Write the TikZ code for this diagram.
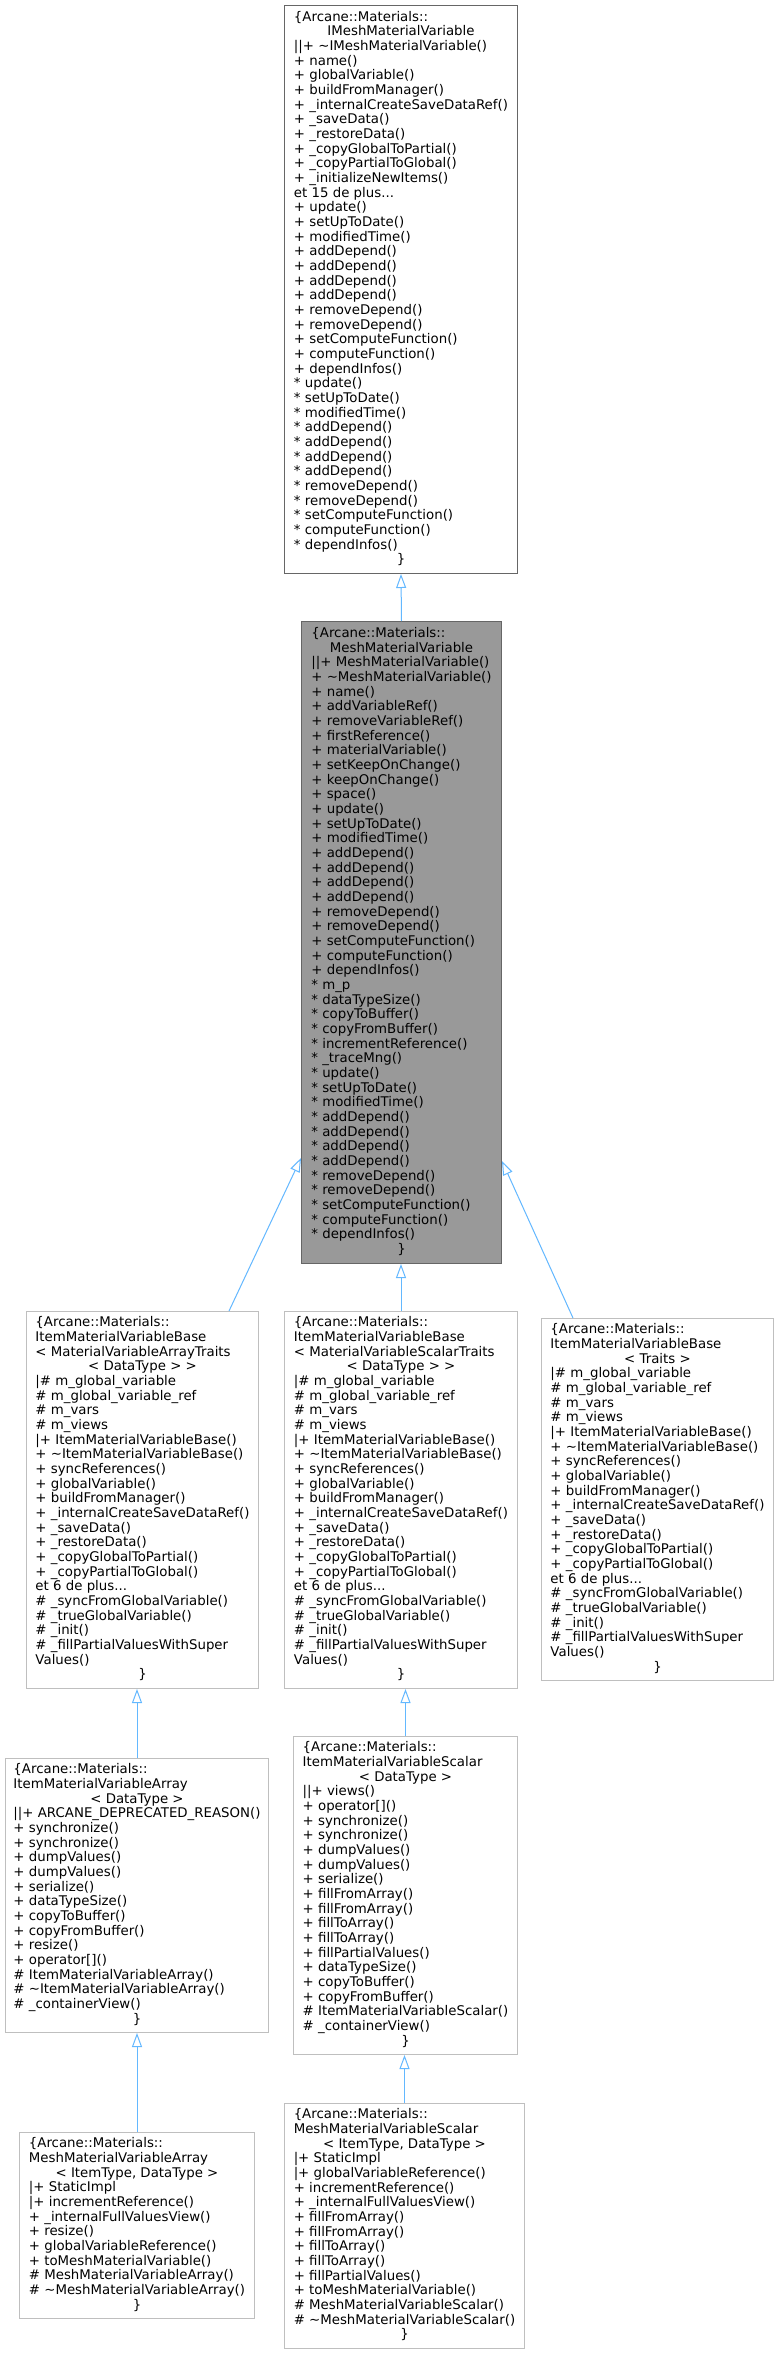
\documentclass[tikz,border=0pt]{standalone}
\usepackage{fontspec}
\setmainfont{DejaVu Sans}
\usepackage{tikz}
\usetikzlibrary{arrows.meta}
\definecolor{edgeblue}{HTML}{63B8FF}
\definecolor{darkframe}{HTML}{666666}
\definecolor{lightframe}{HTML}{BFBFBF}
\definecolor{focusfill}{HTML}{999999}
\newcommand{\centred}[1]{\multicolumn{1}{@{}c@{}}{#1}}

\begin{document}
\begin{tikzpicture}[x=1pt, y=-1pt,
    font=\fontsize{13.33pt}{14.67pt}\selectfont,
    cls/.style={draw=lightframe, line width=1pt, anchor=north west, inner sep=0pt, fill=white},
    inh/.style={draw=edgeblue, line width=1pt, -{Triangle[open, length=14pt, width=10pt]}}]
  \fill[white] (0,0) rectangle (778,2353);

  \node[cls, draw=darkframe, minimum width=233pt, minimum height=568pt] (b1) at (284,5) {\begin{tabular}{@{}l@{}}
    \{Arcane::Materials::\\
    \centred{IMeshMaterialVariable}\\
    ||+ \textasciitilde IMeshMaterialVariable()\\
    + name()\\
    + globalVariable()\\
    + buildFromManager()\\
    + \_internalCreateSaveDataRef()\\
    + \_saveData()\\
    + \_restoreData()\\
    + \_copyGlobalToPartial()\\
    + \_copyPartialToGlobal()\\
    + \_initializeNewItems()\\
    et 15 de plus...\\
    + update()\\
    + setUpToDate()\\
    + modifiedTime()\\
    + addDepend()\\
    + addDepend()\\
    + addDepend()\\
    + addDepend()\\
    + removeDepend()\\
    + removeDepend()\\
    + setComputeFunction()\\
    + computeFunction()\\
    + dependInfos()\\
    {*} update()\\
    {*} setUpToDate()\\
    {*} modifiedTime()\\
    {*} addDepend()\\
    {*} addDepend()\\
    {*} addDepend()\\
    {*} addDepend()\\
    {*} removeDepend()\\
    {*} removeDepend()\\
    {*} setComputeFunction()\\
    {*} computeFunction()\\
    {*} dependInfos()\\
    \centred{\}}
  \end{tabular}};

  \node[cls, draw=darkframe, fill=focusfill, minimum width=200pt, minimum height=642pt] (b2) at (301,621) {\begin{tabular}{@{}l@{}}
    \{Arcane::Materials::\\
    \centred{MeshMaterialVariable}\\
    ||+ MeshMaterialVariable()\\
    + \textasciitilde MeshMaterialVariable()\\
    + name()\\
    + addVariableRef()\\
    + removeVariableRef()\\
    + firstReference()\\
    + materialVariable()\\
    + setKeepOnChange()\\
    + keepOnChange()\\
    + space()\\
    + update()\\
    + setUpToDate()\\
    + modifiedTime()\\
    + addDepend()\\
    + addDepend()\\
    + addDepend()\\
    + addDepend()\\
    + removeDepend()\\
    + removeDepend()\\
    + setComputeFunction()\\
    + computeFunction()\\
    + dependInfos()\\
    {*} m\_p\\
    {*} dataTypeSize()\\
    {*} copyToBuffer()\\
    {*} copyFromBuffer()\\
    {*} incrementReference()\\
    {*} \_traceMng()\\
    {*} update()\\
    {*} setUpToDate()\\
    {*} modifiedTime()\\
    {*} addDepend()\\
    {*} addDepend()\\
    {*} addDepend()\\
    {*} addDepend()\\
    {*} removeDepend()\\
    {*} removeDepend()\\
    {*} setComputeFunction()\\
    {*} computeFunction()\\
    {*} dependInfos()\\
    \centred{\}}
  \end{tabular}};

  \node[cls, minimum width=232pt, minimum height=377pt] (b3) at (26,1311) {\begin{tabular}{@{}l@{}}
    \{Arcane::Materials::\\
    ItemMaterialVariableBase\\
    < MaterialVariableArrayTraits\\
    \centred{< DataType > >}\\
    |\# m\_global\_variable\\
    \# m\_global\_variable\_ref\\
    \# m\_vars\\
    \# m\_views\\
    |+ ItemMaterialVariableBase()\\
    + \textasciitilde ItemMaterialVariableBase()\\
    + syncReferences()\\
    + globalVariable()\\
    + buildFromManager()\\
    + \_internalCreateSaveDataRef()\\
    + \_saveData()\\
    + \_restoreData()\\
    + \_copyGlobalToPartial()\\
    + \_copyPartialToGlobal()\\
    et 6 de plus...\\
    \# \_syncFromGlobalVariable()\\
    \# \_trueGlobalVariable()\\
    \# \_init()\\
    \# \_fillPartialValuesWithSuper\\
    Values()\\
    \centred{\}}
  \end{tabular}};

  \node[cls, minimum width=233pt, minimum height=377pt] (b4) at (284,1311) {\begin{tabular}{@{}l@{}}
    \{Arcane::Materials::\\
    ItemMaterialVariableBase\\
    < MaterialVariableScalarTraits\\
    \centred{< DataType > >}\\
    |\# m\_global\_variable\\
    \# m\_global\_variable\_ref\\
    \# m\_vars\\
    \# m\_views\\
    |+ ItemMaterialVariableBase()\\
    + \textasciitilde ItemMaterialVariableBase()\\
    + syncReferences()\\
    + globalVariable()\\
    + buildFromManager()\\
    + \_internalCreateSaveDataRef()\\
    + \_saveData()\\
    + \_restoreData()\\
    + \_copyGlobalToPartial()\\
    + \_copyPartialToGlobal()\\
    et 6 de plus...\\
    \# \_syncFromGlobalVariable()\\
    \# \_trueGlobalVariable()\\
    \# \_init()\\
    \# \_fillPartialValuesWithSuper\\
    Values()\\
    \centred{\}}
  \end{tabular}};

  \node[cls, minimum width=232pt, minimum height=362pt] (b5) at (541,1318) {\begin{tabular}{@{}l@{}}
    \{Arcane::Materials::\\
    ItemMaterialVariableBase\\
    \centred{< Traits >}\\
    |\# m\_global\_variable\\
    \# m\_global\_variable\_ref\\
    \# m\_vars\\
    \# m\_views\\
    |+ ItemMaterialVariableBase()\\
    + \textasciitilde ItemMaterialVariableBase()\\
    + syncReferences()\\
    + globalVariable()\\
    + buildFromManager()\\
    + \_internalCreateSaveDataRef()\\
    + \_saveData()\\
    + \_restoreData()\\
    + \_copyGlobalToPartial()\\
    + \_copyPartialToGlobal()\\
    et 6 de plus...\\
    \# \_syncFromGlobalVariable()\\
    \# \_trueGlobalVariable()\\
    \# \_init()\\
    \# \_fillPartialValuesWithSuper\\
    Values()\\
    \centred{\}}
  \end{tabular}};

  \node[cls, minimum width=263pt, minimum height=274pt] (b6) at (5,1758) {\begin{tabular}{@{}l@{}}
    \{Arcane::Materials::\\
    ItemMaterialVariableArray\\
    \centred{< DataType >}\\
    ||+ ARCANE\_DEPRECATED\_REASON()\\
    + synchronize()\\
    + synchronize()\\
    + dumpValues()\\
    + dumpValues()\\
    + serialize()\\
    + dataTypeSize()\\
    + copyToBuffer()\\
    + copyFromBuffer()\\
    + resize()\\
    + operator[]()\\
    \# ItemMaterialVariableArray()\\
    \# \textasciitilde ItemMaterialVariableArray()\\
    \# \_containerView()\\
    \centred{\}}
  \end{tabular}};

  \node[cls, minimum width=224pt, minimum height=318pt] (b7) at (293,1736) {\begin{tabular}{@{}l@{}}
    \{Arcane::Materials::\\
    ItemMaterialVariableScalar\\
    \centred{< DataType >}\\
    ||+ views()\\
    + operator[]()\\
    + synchronize()\\
    + synchronize()\\
    + dumpValues()\\
    + dumpValues()\\
    + serialize()\\
    + fillFromArray()\\
    + fillFromArray()\\
    + fillToArray()\\
    + fillToArray()\\
    + fillPartialValues()\\
    + dataTypeSize()\\
    + copyToBuffer()\\
    + copyFromBuffer()\\
    \# ItemMaterialVariableScalar()\\
    \# \_containerView()\\
    \centred{\}}
  \end{tabular}};

  \node[cls, minimum width=235pt, minimum height=186pt] (b8) at (19,2132) {\begin{tabular}{@{}l@{}}
    \{Arcane::Materials::\\
    MeshMaterialVariableArray\\
    \centred{< ItemType, DataType >}\\
    |+ StaticImpl\\
    |+ incrementReference()\\
    + \_internalFullValuesView()\\
    + resize()\\
    + globalVariableReference()\\
    + toMeshMaterialVariable()\\
    \# MeshMaterialVariableArray()\\
    \# \textasciitilde MeshMaterialVariableArray()\\
    \centred{\}}
  \end{tabular}};

  \node[cls, minimum width=240pt, minimum height=245pt] (b9) at (284,2103) {\begin{tabular}{@{}l@{}}
    \{Arcane::Materials::\\
    MeshMaterialVariableScalar\\
    \centred{< ItemType, DataType >}\\
    |+ StaticImpl\\
    |+ globalVariableReference()\\
    + incrementReference()\\
    + \_internalFullValuesView()\\
    + fillFromArray()\\
    + fillFromArray()\\
    + fillToArray()\\
    + fillToArray()\\
    + fillPartialValues()\\
    + toMeshMaterialVariable()\\
    \# MeshMaterialVariableScalar()\\
    \# \textasciitilde MeshMaterialVariableScalar()\\
    \centred{\}}
  \end{tabular}};

  % inheritance edges, open tip on the base class
  \draw[inh] (b2.north) -- (b1.south);
  \draw[inh] ([xshift=203pt]b3.north west) -- ([yshift=106pt]b2.south west);
  \draw[inh] (b4.north) -- (b4.north |- b2.south);
  \draw[inh] ([xshift=32pt]b5.north west) -- ([yshift=103pt]b2.south east);
  \draw[inh] (b6.north) -- (b6.north |- b3.south);
  \draw[inh] (b7.north) -- (b7.north |- b4.south);
  \draw[inh] (b8.north) -- (b8.north |- b6.south);
  \draw[inh] (b9.north) -- (b9.north |- b7.south);
\end{tikzpicture}
\end{document}
